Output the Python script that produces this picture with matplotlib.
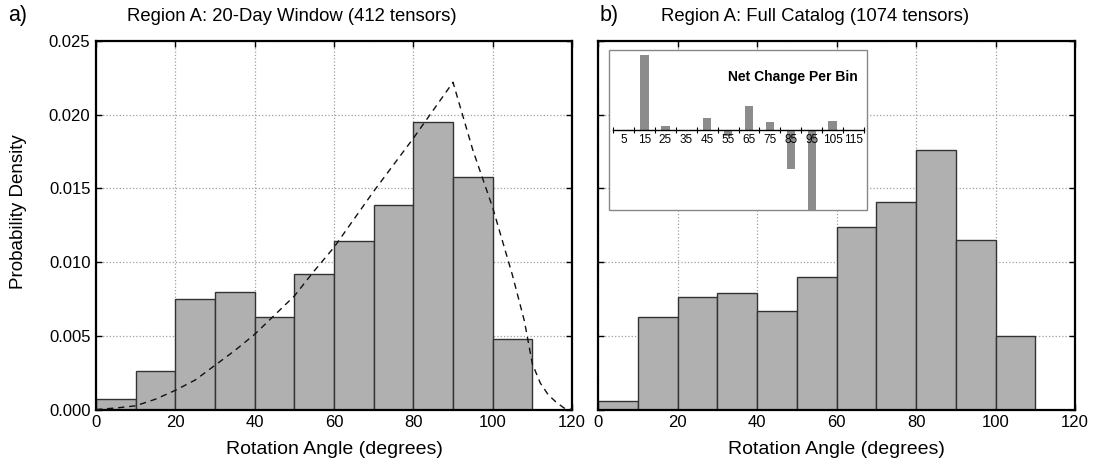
import matplotlib
matplotlib.use('Agg')

import matplotlib.pyplot as plt
from matplotlib.patches import Rectangle
import numpy as np

plt.rcParams['font.family'] = ['Liberation Sans', 'DejaVu Sans']

# --- datos ---
bin_left = [0, 10, 20, 30, 40, 50, 60, 70, 80, 90, 100, 110]
bin_width = 10

density_window = [0.0007, 0.0026, 0.0075, 0.0080, 0.0063, 0.0092,
                  0.0114, 0.0139, 0.0195, 0.0158, 0.0048, 0.0]
density_full = [0.0006, 0.0063, 0.0076, 0.0079, 0.0067, 0.0090,
                0.0124, 0.0141, 0.0176, 0.0115, 0.0050, 0.0]

curve_angle = [0, 5, 10, 15, 20, 25, 30, 35, 40, 45, 50, 55, 60, 65, 70, 75,
               80, 85, 90, 95, 100, 105, 108, 110, 112, 114, 116, 118, 120]
curve_density = [0.0, 0.0001, 0.00025, 0.0007, 0.0013, 0.0020, 0.0030, 0.0040,
                 0.0051, 0.0064, 0.0077, 0.0094, 0.0110, 0.0129, 0.0148, 0.0166,
                 0.0184, 0.0203, 0.0222, 0.0176, 0.0137, 0.0091, 0.0060, 0.0031,
                 0.0018, 0.0010, 0.0005, 0.0001, 0.0]

inset_centers = [5, 15, 25, 35, 45, 55, 65, 75, 85, 95, 105, 115]
net_change = [-0.00005, 0.0042, 0.00022, 0.0, 0.00068, -0.00036,
              0.00135, 0.00045, -0.0022, -0.0046, 0.0005, 0.0]

x_ticks = [0, 20, 40, 60, 80, 100, 120]
y_ticks = [0.000, 0.005, 0.010, 0.015, 0.020, 0.025]

titles = ["Region A: 20-Day Window (412 tensors)",
          "Region A: Full Catalog (1074 tensors)"]

W, H = 1099, 472
fig = plt.figure(figsize=(W / 100, H / 100), dpi=100, facecolor='white')

ax1 = fig.add_axes([96 / W, 1 - 409.5 / H, 476 / W, 368.5 / H])
ax2 = fig.add_axes([598 / W, 1 - 409.5 / H, 477 / W, 368.5 / H])


def estilo_panel(ax, dens):
    ax.bar(bin_left, dens, width=bin_width, align='edge', color='#b0b0b0',
           edgecolor='#333333', linewidth=1.0, zorder=2)
    ax.set_xlim(0, 120)
    ax.set_ylim(0, 0.025)
    ax.set_xticks(x_ticks)
    ax.set_yticks(y_ticks)
    ax.set_axisbelow(True)
    ax.grid(True, linestyle=':', color='#a0a0a0', linewidth=0.9)
    ax.tick_params(direction='in', length=4.5, width=1, top=True, right=True,
                   labelsize=12, pad=4)
    for s in ax.spines.values():
        s.set_linewidth(1.6)
    ax.set_xlabel("Rotation Angle (degrees)", fontsize=14, labelpad=8)


estilo_panel(ax1, density_window)
ax1.yaxis.set_major_formatter(matplotlib.ticker.FormatStrFormatter('%.3f'))
ax1.plot(curve_angle, curve_density, color='#111111', linewidth=1.0,
         dashes=(4.5, 3.5), zorder=3)
fig.text(18.5 / W, 1 - 212 / H, "Probability Density", fontsize=13.5,
         rotation=90, ha='center', va='center')

estilo_panel(ax2, density_full)
ax2.tick_params(labelleft=False)

fig.text(291.7 / W, 1 - 20.7 / H, titles[0], fontsize=13.3, ha='center', va='baseline')
fig.text(814.7 / W, 1 - 20.7 / H, titles[1], fontsize=13.3, ha='center', va='baseline')
fig.text(8 / W, 1 - 21.5 / H, "a)", fontsize=15.5, ha='left', va='baseline')
fig.text(600 / W, 1 - 21.5 / H, "b)", fontsize=15.5, ha='left', va='baseline')

# --- inset: cambio neto por bin ---
axin = fig.add_axes([609.3 / W, 1 - 210 / H, 257.4 / W, 160 / H], facecolor='white')
axin.bar(inset_centers, net_change, width=4, color='#8c8c8c', linewidth=0, zorder=2)
axin.set_axisbelow(False)
axin.set_xlim(-1.8, 121.3)
axin.set_ylim(-0.0045, 0.0045)
for lado in ['top', 'left', 'right']:
    axin.spines[lado].set_visible(False)
axin.spines['bottom'].set_position(('data', 0))
axin.spines['bottom'].set_bounds(0, 120)
axin.spines['bottom'].set_linewidth(1.0)
axin.spines['bottom'].set_zorder(3)
axin.add_patch(Rectangle((0, 0), 1, 1, transform=axin.transAxes, fill=False,
                         edgecolor='#888888', linewidth=1.0, clip_on=False))
axin.set_yticks([])
axin.set_xticks(list(range(0, 130, 10)))
axin.set_xticklabels([])
axin.set_xticks(inset_centers, minor=True)
axin.set_xticklabels([str(c) for c in inset_centers], minor=True, fontsize=8.5)
axin.tick_params(axis='x', which='major', direction='inout', length=4, width=0.8)
axin.tick_params(axis='x', which='minor', length=0, pad=3)
axin.text(0.965, 0.83, "Net Change Per Bin", transform=axin.transAxes,
          fontsize=10, fontweight='bold', ha='right', va='center')

plt.savefig("out.png", dpi=100, facecolor='white')
